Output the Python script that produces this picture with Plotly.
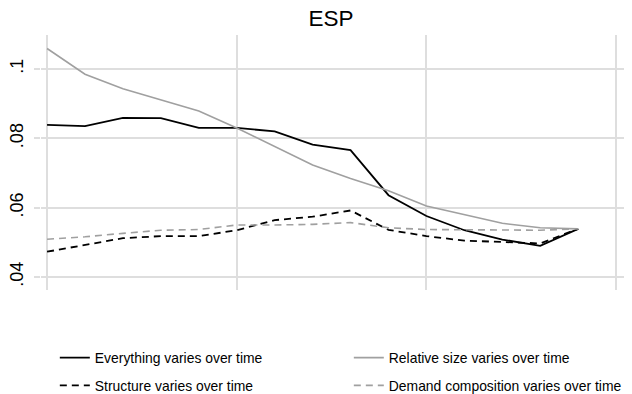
import plotly.graph_objects as go

years = list(range(2000, 2015))
everything = [0.0839, 0.0835, 0.0859, 0.0858, 0.0830, 0.0830, 0.0820, 0.0782,
              0.0766, 0.0636, 0.0576, 0.0535, 0.0508, 0.0490, 0.0539]
relsize = [0.1059, 0.0985, 0.0943, 0.0910, 0.0879, 0.0830, 0.0776, 0.0723,
           0.0684, 0.0649, 0.0605, 0.0581, 0.0555, 0.0542, 0.0539]
structure = [0.0473, 0.0492, 0.0512, 0.0518, 0.0518, 0.0535, 0.0564, 0.0574,
             0.0592, 0.0536, 0.0518, 0.0505, 0.0500, 0.0497, 0.0539]
demand = [0.0509, 0.0516, 0.0526, 0.0535, 0.0537, 0.0550, 0.0550, 0.0552,
          0.0557, 0.0542, 0.0537, 0.0537, 0.0537, 0.0535, 0.0539]

names = ["Everything varies over time", "Relative size varies over time",
         "Structure varies over time", "Demand composition varies over time"]
ytickvals = [0.04, 0.06, 0.08, 0.1]
yticktext = [".04", ".06", ".08", ".1"]

FONT = "Liberation Sans, Arial, sans-serif"
GRID = "rgb(222,222,222)"
GRAY = "rgb(160,160,160)"

fig = go.Figure()
fig.add_trace(go.Scatter(x=years, y=everything, mode="lines", name=names[0],
                         line=dict(color="black", width=1.8), legend="legend"))
fig.add_trace(go.Scatter(x=years, y=relsize, mode="lines", name=names[1],
                         line=dict(color=GRAY, width=1.6), legend="legend3"))
fig.add_trace(go.Scatter(x=years, y=structure, mode="lines", name=names[2],
                         line=dict(color="black", width=1.8, dash="7px,5px"), legend="legend2"))
fig.add_trace(go.Scatter(x=years, y=demand, mode="lines", name=names[3],
                         line=dict(color=GRAY, width=1.6, dash="7px,5px"), legend="legend4"))

legend_common = dict(orientation="h", xanchor="left", yanchor="middle", yref="paper",
                     font=dict(family=FONT, size=13.9, color="black"),
                     bgcolor="rgba(0,0,0,0)")

COL1, COL2 = 0.0235, 0.5235
ROW1, ROW2 = -0.267, -0.376

# page has an 8px body margin, so the figure is 624x386
fig.update_layout(
    width=624, height=386,
    margin=dict(l=33, r=3, t=27, b=104, autoexpand=False),
    paper_bgcolor="white", plot_bgcolor="white",
    font=dict(family=FONT, color="black"),
    title=dict(text="ESP", x=0.5176, xref="container", xanchor="center",
               y=1 - 10 / 386, yref="container", yanchor="middle",
               font=dict(family=FONT, size=22.5, color="black")),
    showlegend=True,
    legend=dict(x=COL1, y=ROW1, **legend_common),
    legend2=dict(x=COL1, y=ROW2, **legend_common),
    legend3=dict(x=COL2, y=ROW1, **legend_common),
    legend4=dict(x=COL2, y=ROW2, **legend_common),
    xaxis=dict(range=[1999.84, 2015.34], tickmode="linear", tick0=2000, dtick=5,
               showgrid=True, gridcolor=GRID, gridwidth=1.5, automargin=False,
               showticklabels=False, ticks="", zeroline=False, showline=False),
    yaxis=dict(range=[0.03626, 0.1098], tickmode="array", tickvals=ytickvals,
               ticktext=yticktext, tickangle=-90, ticks="outside", ticklen=6,
               tickcolor=GRID, tickwidth=1.5, automargin=False, ticklabelstandoff=4,
               tickfont=dict(family=FONT, size=18, color="black"),
               showgrid=True, gridcolor=GRID, gridwidth=1.5,
               zeroline=False, showline=False),
)

fig.write_html("out.html")
